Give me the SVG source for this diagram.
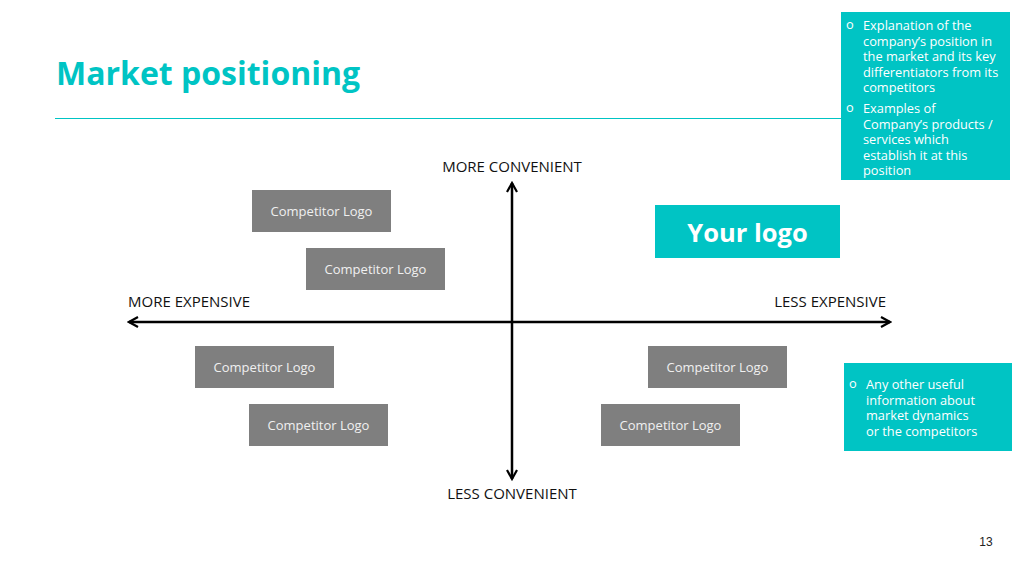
<svg xmlns="http://www.w3.org/2000/svg" width="1024" height="575" viewBox="0 0 1024 575">
<defs>
<style>
.t{font-family:"Open Sans","Noto Sans",sans-serif}
.comp rect{fill:#7f7f7f}
.comp text{fill:#f0f0f0;font-size:13px;text-anchor:middle}
.axl{font-size:15px;fill:#111}
.bx{fill:#00c4c4}
.bt{fill:#fff;font-size:12.8px}
.ax{stroke:#000;stroke-width:2.5;fill:none}
</style>
<marker id="ah" viewBox="0 0 12 12" refX="10" refY="6" markerWidth="12" markerHeight="12" markerUnits="userSpaceOnUse" orient="auto-start-reverse">
<path d="M1,1 L10,6 L1,11" fill="none" stroke="#000" stroke-width="2.2"/>
</marker>
</defs>
<rect width="1024" height="575" fill="#fff"/>
<g id="title">
<text class="t" x="56" y="85" font-size="32" font-weight="bold" fill="#00c4c4">Market positioning</text>
<line x1="55" y1="118.5" x2="842" y2="118.5" stroke="#00c4c4" stroke-width="1"/>
</g>
<g id="connectors">
<line class="ax" x1="129" y1="322" x2="890" y2="322" marker-start="url(#ah)" marker-end="url(#ah)"/>
<line class="ax" x1="512" y1="183" x2="512" y2="479" marker-start="url(#ah)" marker-end="url(#ah)"/>
</g>
<g id="labels" class="t">
<text class="axl" x="512" y="172" text-anchor="middle">MORE CONVENIENT</text>
<text class="axl" x="512" y="499" text-anchor="middle">LESS CONVENIENT</text>
<text class="axl" x="128" y="307">MORE EXPENSIVE</text>
<text class="axl" x="886" y="307" text-anchor="end">LESS EXPENSIVE</text>
</g>
<g id="comp1" class="comp t"><rect x="252" y="190" width="139" height="42"/><text x="321.5" y="216">Competitor Logo</text></g>
<g id="comp2" class="comp t"><rect x="306" y="248" width="139" height="42"/><text x="375.5" y="274">Competitor Logo</text></g>
<g id="comp3" class="comp t"><rect x="195" y="346" width="139" height="42"/><text x="264.5" y="372">Competitor Logo</text></g>
<g id="comp4" class="comp t"><rect x="249" y="404" width="139" height="42"/><text x="318.5" y="430">Competitor Logo</text></g>
<g id="comp5" class="comp t"><rect x="648" y="346" width="139" height="42"/><text x="717.5" y="372">Competitor Logo</text></g>
<g id="comp6" class="comp t"><rect x="601" y="404" width="139" height="42"/><text x="670.5" y="430">Competitor Logo</text></g>
<g id="yourlogo" class="t">
<rect class="bx" x="655" y="205" width="185" height="53"/>
<text x="747.5" y="242" font-size="25.5" font-weight="bold" fill="#fff" text-anchor="middle">Your logo</text>
</g>
<g id="note1" class="t">
<rect class="bx" x="841" y="12" width="169" height="168"/>
<text class="bt" x="846" y="29">o</text>
<text class="bt" x="863" y="30">Explanation of the</text>
<text class="bt" x="863" y="45.5">company’s position in</text>
<text class="bt" x="863" y="61">the market and its key</text>
<text class="bt" x="863" y="76.5">differentiators from its</text>
<text class="bt" x="863" y="92">competitors</text>
<text class="bt" x="846" y="112">o</text>
<text class="bt" x="863" y="113">Examples of</text>
<text class="bt" x="863" y="128.5">Company’s products /</text>
<text class="bt" x="863" y="144">services which</text>
<text class="bt" x="863" y="159.5">establish it at this</text>
<text class="bt" x="863" y="175">position</text>
</g>
<g id="note2" class="t">
<rect class="bx" x="844" y="363" width="168" height="88"/>
<text class="bt" x="849" y="388">o</text>
<text class="bt" x="866" y="389">Any other useful</text>
<text class="bt" x="866" y="404.5">information about</text>
<text class="bt" x="866" y="420">market dynamics</text>
<text class="bt" x="866" y="435.5">or the competitors</text>
</g>
<text x="986" y="546" font-family="Liberation Sans,Arial,sans-serif" font-size="12" fill="#222" text-anchor="middle">13</text>
</svg>
